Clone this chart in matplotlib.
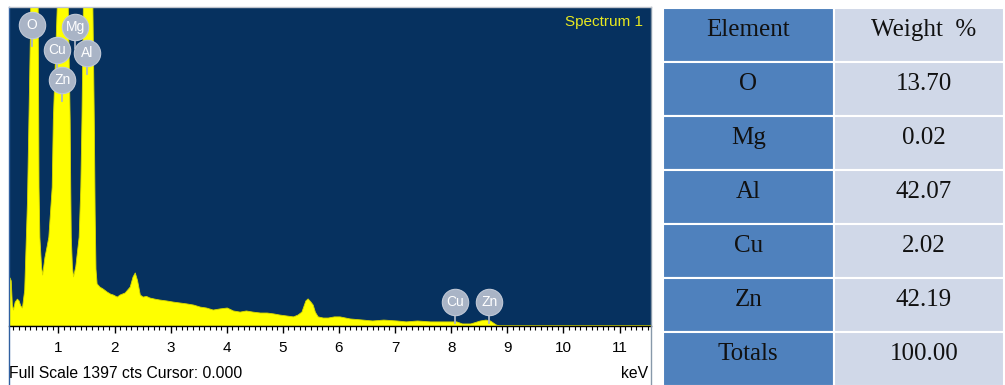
import matplotlib
matplotlib.use('Agg')
import matplotlib.pyplot as plt
from matplotlib.patches import Rectangle
from matplotlib.lines import Line2D
import numpy as np

plt.rcParams['font.family'] = ['Liberation Sans', 'DejaVu Sans']

# EDS spectrum (keV, counts)
energy = [0.12, 0.14, 0.16, 0.18, 0.20, 0.23, 0.27, 0.30, 0.33, 0.36, 0.40, 0.45,
          0.50, 0.53, 0.57, 0.61, 0.64, 0.655, 0.67, 0.70, 0.72, 0.76, 0.80, 0.83,
          0.89, 0.91, 0.98, 1.03, 1.08, 1.13, 1.17, 1.19, 1.21, 1.22, 1.23, 1.25,
          1.27, 1.31, 1.37, 1.40, 1.42, 1.445, 1.50, 1.56, 1.615, 1.64, 1.655, 1.67,
          1.69, 1.74, 1.80, 1.87, 1.93, 1.98, 2.05, 2.10, 2.19, 2.28, 2.33, 2.37,
          2.41, 2.46, 2.51, 2.57, 2.63, 2.72, 2.81, 2.93, 3.05, 3.17, 3.29, 3.41,
          3.53, 3.64, 3.76, 3.88, 4.01, 4.12, 4.24, 4.35, 4.47, 4.60, 4.72, 4.84,
          4.95, 5.07, 5.19, 5.27, 5.34, 5.41, 5.45, 5.50, 5.54, 5.58, 5.63, 5.72,
          5.81, 5.92, 6.02, 6.20, 6.43, 6.60, 6.80, 7.04, 7.20, 7.40, 7.63, 7.85,
          8.10, 8.20, 8.35, 8.52, 8.62, 8.70, 8.80, 8.85, 11.6]
counts = [193, 211, 198, 92, 70, 105, 118, 110, 88, 79, 158, 553,
          1256, 1900, 2600, 1900, 1400, 610, 390, 260, 224, 300, 350, 390,
          610, 904, 1400, 2500, 3000, 2200, 1500, 1200, 904, 610, 390, 260,
          216, 260, 390, 610, 904, 1400, 3500, 3500, 1400, 900, 500, 250,
          185, 171, 162, 149, 140, 136, 127, 136, 145, 171, 215, 233,
          200, 136, 127, 130, 123, 118, 114, 110, 105, 101, 97, 92,
          83, 79, 70, 75, 79, 66, 61, 66, 61, 57, 57, 53,
          48, 44, 40, 48, 61, 110, 119, 105, 92, 60, 40, 35,
          35, 40, 40, 31, 26, 22, 26, 22, 18, 22, 18, 18,
          18, 9, 9, 22, 26, 22, 5, 0, 0]
full_scale = 1397

# element line markers: label, energy (keV), height in pixels from top
line_labels = ['O', 'Mg', 'Cu', 'Al', 'Zn', 'Cu', 'Zn']
line_energy = [0.53, 1.30, 0.98, 1.51, 1.07, 8.07, 8.68]
line_ypix = [25, 27, 50, 53, 80, 302, 302]

# quantification table
elements = ['O', 'Mg', 'Al', 'Cu', 'Zn', 'Totals']
weights = [13.70, 0.02, 42.07, 2.02, 42.19, 100.00]

W, H = 1005, 385
fig = plt.figure(figsize=(W / 100, H / 100), dpi=100)
fig.patch.set_facecolor('white')

# ---- spectrum panel ----
ax_top, ax_bot = 8, 326
ax = fig.add_axes([9 / W, (H - ax_bot) / H, (651 - 9) / W, (ax_bot - ax_top) / H])
ax.set_facecolor('#06315f')
ax.fill_between(energy, 0, counts, color='#ffff00', edgecolor='#d8d800', linewidth=0.6)
ax.set_xlim(0.12, 11.56)
ax.set_ylim(0, full_scale)
for s in ['top', 'left', 'right']:
    ax.spines[s].set_visible(False)
ax.spines['bottom'].set_color('black')
ax.spines['bottom'].set_linewidth(1.0)
ax.set_yticks([])
ax.set_xticks(range(1, 12))
ax.set_xticks(np.arange(0.2, 11.6, 0.1), minor=True)
ax.tick_params(axis='x', which='major', length=5, width=1, pad=6, labelsize=11)
ax.tick_params(axis='x', which='minor', length=3, width=0.8)

trans = ax.get_xaxis_transform()
for lab, e, yp in zip(line_labels, line_energy, line_ypix):
    yc = (ax_bot - yp) / (ax_bot - ax_top)
    ys = (ax_bot - (yp + 21)) / (ax_bot - ax_top)
    ax.plot([e, e], [ys, yc], color='#a9b4c6', lw=1.3, transform=trans, clip_on=False)
    ax.plot(e, yc, 'o', ms=19, color='#a9b4c6', mec='#c0c8d6', mew=0.8,
            transform=trans, clip_on=False)
    ax.text(e, yc, lab, color='white', fontsize=10, ha='center', va='center',
            transform=trans)

ax.text(0.988, 0.955, 'Spectrum 1', transform=ax.transAxes, color='#e8e820',
        fontsize=11, ha='right', va='center')

fig.text(9 / W, (H - 374) / H, 'Full Scale 1397 cts Cursor: 0.000', fontsize=11.3,
         ha='left', va='center', color='black')
fig.text(648 / W, (H - 374) / H, 'keV', fontsize=11.3, ha='right', va='center')

# panel border lines
fig.add_artist(Line2D([9 / W, 9 / W], [0, (H - 7) / H], color='#3060a0', lw=1))
fig.add_artist(Line2D([651 / W, 651 / W], [0, (H - 7) / H], color='#8899aa', lw=1))
fig.add_artist(Line2D([9 / W, 651 / W], [(H - 7) / H, (H - 7) / H], color='#c0c4cc', lw=1))

# ---- table ----
tb = fig.add_axes([663 / W, (H - 386) / H, (1004 - 663) / W, (386 - 8) / H])
tb.set_xlim(0, 2)
tb.set_ylim(len(elements) + 1, 0)
tb.axis('off')
header = ['Element', 'Weight  %']
rows = [header] + [[el, f'{w:.2f}'] for el, w in zip(elements, weights)]
for i, row in enumerate(rows):
    for j, txt in enumerate(row):
        fc = '#4f81bd' if j == 0 else '#d0d8e8'
        tb.add_patch(Rectangle((j, i), 1, 1, facecolor=fc, edgecolor='white', lw=1.5))
        tb.text(j + 0.5 + (0.03 if j == 1 else 0), i + 0.40, txt, ha='center',
                va='center', fontsize=18, family='Liberation Serif', color='#111111')

fig.savefig('out.png', dpi=100, facecolor='white')
